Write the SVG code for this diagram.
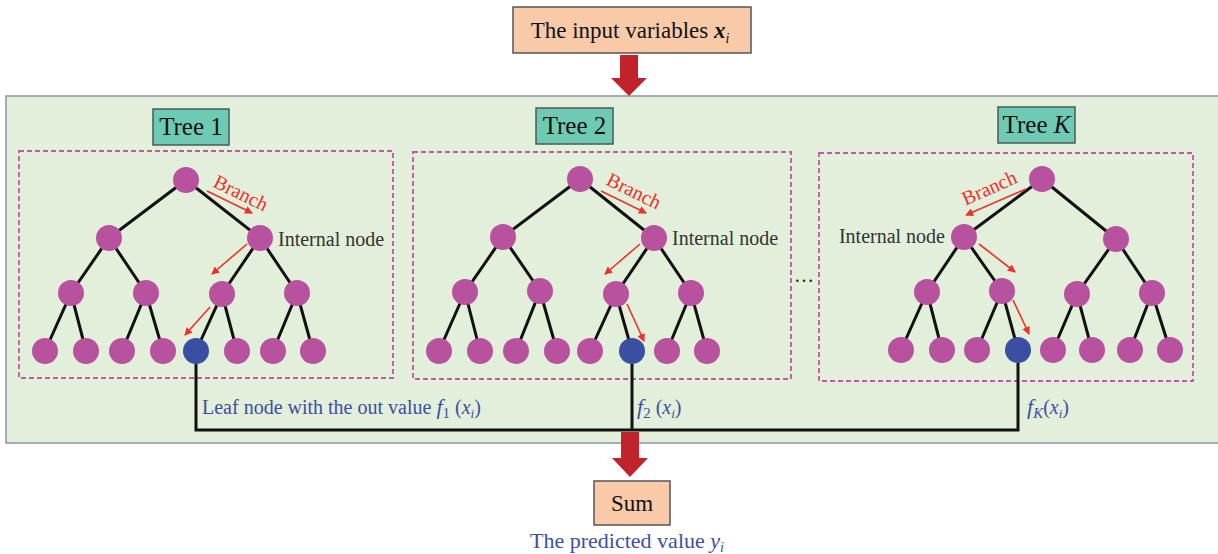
<svg xmlns="http://www.w3.org/2000/svg" width="1218" height="554" viewBox="0 0 1218 554">
<style>
text{font-family:"Liberation Serif","Times New Roman",serif;}
.edge{stroke:#111;stroke-width:3;fill:none;}
.n{fill:#b8529e;}
.leaf{fill:#3a4fa2;}
.dash{fill:none;stroke:#c455a9;stroke-width:1.8;stroke-dasharray:5,3;}
.red{stroke:#f0302a;stroke-width:1.6;fill:none;marker-end:url(#ah);}
.lbl{fill:#6fcab3;stroke:#4a5a5a;stroke-width:1.5;}
.peach{fill:#f8caa8;stroke:#555;stroke-width:1.5;}
.big{fill:#c0242a;}
.br{fill:#f0302a;font-size:20px;}
.int{fill:#333;font-size:20px;}
.blue{fill:#3d4ea6;font-size:20px;}
.tl{font-size:25px;fill:#111;}
</style>
<defs>
<marker id="ah" markerWidth="8" markerHeight="8" refX="7" refY="4" orient="auto" markerUnits="userSpaceOnUse">
<path d="M0,0 L8,4 L0,8 Z" fill="#f0302a"/>
</marker>
</defs>
<rect id="panel" x="6" y="96" width="1215" height="347" fill="#e2efda" stroke="#8e93a8" stroke-width="1.5"/>
<g id="input">
<rect class="peach" x="513" y="7" width="238" height="46"/>
<text x="630" y="38" text-anchor="middle" font-size="23" fill="#111">The input variables <tspan font-weight="bold" font-style="italic">x</tspan><tspan font-style="italic" font-size="14" dy="5">i</tspan></text>
</g>
<polygon id="arrow-top" class="big" points="620,55 638,55 638,78 647,78 629,96 611,78 620,78"/>
<g id="tree1">
<rect class="lbl" x="153" y="109" width="76" height="36"/>
<text class="tl" x="191" y="135" text-anchor="middle">Tree 1</text>
<rect class="dash" x="19" y="151" width="374" height="227"/>
<g class="edge">
<path d="M109,238 L186,180 L260,238 M71,293 L109,238 L146,293 M222,294 L260,238 L297,293 M45,351 L71,293 L86,351 M122,351 L146,293 L163,351 M196,351 L222,294 L237,351 M273,351 L297,293 L313,351"/>
</g>
<circle class="n" cx="186" cy="180" r="13"/>
<circle class="n" cx="109" cy="238" r="13"/><circle class="n" cx="260" cy="238" r="13"/>
<circle class="n" cx="71" cy="293" r="13"/><circle class="n" cx="146" cy="293" r="13"/><circle class="n" cx="222" cy="294" r="13"/><circle class="n" cx="297" cy="293" r="13"/>
<circle class="n" cx="45" cy="351" r="13"/><circle class="n" cx="86" cy="351" r="13"/><circle class="n" cx="122" cy="351" r="13"/><circle class="n" cx="163" cy="351" r="13"/><circle class="leaf" cx="196" cy="351" r="13"/><circle class="n" cx="237" cy="351" r="13"/><circle class="n" cx="273" cy="351" r="13"/><circle class="n" cx="313" cy="351" r="13"/>
<line class="red" x1="207" y1="191" x2="252" y2="213"/>
<line class="red" x1="247" y1="244" x2="212" y2="274"/>
<line class="red" x1="210" y1="307" x2="185" y2="335"/>
<text class="br" x="238" y="199" text-anchor="middle" transform="rotate(26 238 199)">Branch</text>
<text class="int" x="278" y="246">Internal node</text>
</g>
<g id="tree2">
<rect class="lbl" x="536" y="108" width="77" height="36"/>
<text class="tl" x="574.5" y="134" text-anchor="middle">Tree 2</text>
<rect class="dash" x="413" y="152" width="378" height="227"/>
<g class="edge">
<path d="M503,237 L580,179 L654,238 M465,292 L503,237 L540,291 M616,294 L654,238 L691,293 M439,351 L465,292 L480,351 M516,351 L540,291 L557,351 M590,351 L616,294 L632,351 M667,351 L691,293 L707,351"/>
</g>
<circle class="n" cx="580" cy="179" r="13"/>
<circle class="n" cx="503" cy="237" r="13"/><circle class="n" cx="654" cy="238" r="13"/>
<circle class="n" cx="465" cy="292" r="13"/><circle class="n" cx="540" cy="291" r="13"/><circle class="n" cx="616" cy="294" r="13"/><circle class="n" cx="691" cy="293" r="13"/>
<circle class="n" cx="439" cy="351" r="13"/><circle class="n" cx="480" cy="351" r="13"/><circle class="n" cx="516" cy="351" r="13"/><circle class="n" cx="557" cy="351" r="13"/><circle class="n" cx="590" cy="351" r="13"/><circle class="leaf" cx="632" cy="351" r="13"/><circle class="n" cx="667" cy="351" r="13"/><circle class="n" cx="707" cy="351" r="13"/>
<line class="red" x1="601" y1="191" x2="646" y2="213"/>
<line class="red" x1="640" y1="244" x2="605" y2="274"/>
<line class="red" x1="627" y1="304" x2="644" y2="341"/>
<text class="br" x="631" y="197" text-anchor="middle" transform="rotate(26 631 197)">Branch</text>
<text class="int" x="672" y="245">Internal node</text>
</g>
<text id="dots" x="804" y="282" text-anchor="middle" font-size="20" fill="#222">…</text>
<g id="treeK">
<rect class="lbl" x="998" y="107" width="77" height="36"/>
<text class="tl" x="1036.5" y="133" text-anchor="middle">Tree <tspan font-style="italic">K</tspan></text>
<rect class="dash" x="819" y="153" width="374" height="228"/>
<g class="edge">
<path d="M964,237 L1042,179 L1116,239 M927,292 L964,237 L1002,291 M1077,294 L1116,239 L1152,293 M901,350 L927,292 L942,350 M977,350 L1002,291 L1018,350 M1053,350 L1077,294 L1092,350 M1130,350 L1152,293 L1170,350"/>
</g>
<circle class="n" cx="1042" cy="179" r="13"/>
<circle class="n" cx="964" cy="237" r="13"/><circle class="n" cx="1116" cy="239" r="13"/>
<circle class="n" cx="927" cy="292" r="13"/><circle class="n" cx="1002" cy="291" r="13"/><circle class="n" cx="1077" cy="294" r="13"/><circle class="n" cx="1152" cy="293" r="13"/>
<circle class="n" cx="901" cy="350" r="13"/><circle class="n" cx="942" cy="350" r="13"/><circle class="n" cx="977" cy="350" r="13"/><circle class="leaf" cx="1018" cy="350" r="13"/><circle class="n" cx="1053" cy="350" r="13"/><circle class="n" cx="1092" cy="350" r="13"/><circle class="n" cx="1130" cy="350" r="13"/><circle class="n" cx="1170" cy="350" r="13"/>
<line class="red" x1="1026" y1="189" x2="966" y2="215"/>
<line class="red" x1="979" y1="244" x2="1015" y2="272"/>
<line class="red" x1="1013" y1="300" x2="1029" y2="334"/>
<text class="br" x="992" y="194" text-anchor="middle" transform="rotate(-24 992 194)">Branch</text>
<text class="int" x="945" y="243" text-anchor="end">Internal node</text>
</g>
<g id="connectors">
<path class="edge" d="M196,364 V430 H1018 V363 M632,364 V430"/>
</g>
<g id="outputs">
<text class="blue" x="202" y="414">Leaf node with the out value <tspan font-style="italic" font-size="22">f</tspan><tspan font-size="15" dy="4">1</tspan><tspan dy="-4"> (</tspan><tspan font-style="italic">x</tspan><tspan font-style="italic" font-size="13" dy="4">i</tspan><tspan dy="-4">)</tspan></text>
<text class="blue" x="637" y="414"><tspan font-style="italic" font-size="22">f</tspan><tspan font-size="15" dy="4">2</tspan><tspan dy="-4"> (</tspan><tspan font-style="italic">x</tspan><tspan font-style="italic" font-size="13" dy="4">i</tspan><tspan dy="-4">)</tspan></text>
<text class="blue" x="1027" y="414"><tspan font-style="italic" font-size="22">f</tspan><tspan font-style="italic" font-size="15" dy="4">K</tspan><tspan dy="-4">(</tspan><tspan font-style="italic">x</tspan><tspan font-style="italic" font-size="13" dy="4">i</tspan><tspan dy="-4">)</tspan></text>
</g>
<polygon id="arrow-bottom" class="big" points="621,432 639,432 639,458 648,458 630,477 612,458 621,458"/>
<g id="sum">
<rect class="peach" x="594" y="481" width="76" height="44"/>
<text x="632" y="511" text-anchor="middle" font-size="23" fill="#111">Sum</text>
</g>
<text id="predicted" x="627" y="548" text-anchor="middle" font-size="22" fill="#3d4ea6">The predicted value <tspan font-style="italic">y</tspan><tspan font-style="italic" font-size="14" dy="4">i</tspan></text>
</svg>
